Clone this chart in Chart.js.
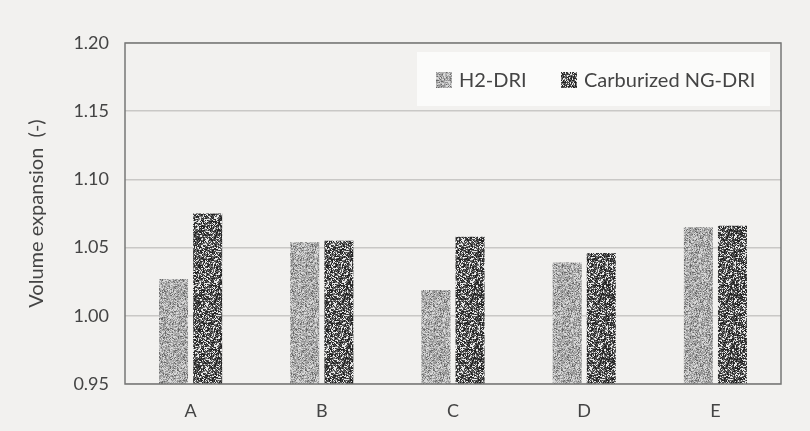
<!DOCTYPE html>
<html>
<head>
<meta charset="utf-8">
<script src="https://cdn.jsdelivr.net/npm/chart.js@4"></script>
<style>
  html, body { margin: 0; padding: 0; background: #f2f1ef; }
  #wrap { width: 810px; height: 431px; }
</style>
</head>
<body>
<div id="wrap"><canvas id="bar_chart"></canvas></div>
<script>
const categories = ['A', 'B', 'C', 'D', 'E'];
const h2Dri = [1.027, 1.054, 1.019, 1.039, 1.065];
const carbNgDri = [1.075, 1.055, 1.058, 1.046, 1.066];
const yMin = 0.95, yMax = 1.20, yStep = 0.05;

// speckled fill like the original (seeded so it looks the same every time)
let seed = 12345;
function rnd() {
  seed = (seed * 1103515245 + 12345) % 2147483648;
  return seed / 2147483648;
}
function speckle(shades) {
  const c = document.createElement('canvas');
  c.width = 64; c.height = 64;
  const g = c.getContext('2d');
  const img = g.createImageData(64, 64);
  for (let i = 0; i < 64 * 64; i++) {
    const r = rnd();
    let v = shades[shades.length - 1][1];
    for (const s of shades) { if (r < s[0]) { v = s[1]; break; } }
    img.data[i * 4] = v; img.data[i * 4 + 1] = v; img.data[i * 4 + 2] = v; img.data[i * 4 + 3] = 255;
  }
  g.putImageData(img, 0, 0);
  return g.createPattern(c, 'repeat');
}
const lightFill = speckle([[0.25, 215], [0.6, 178], [0.88, 148], [1, 105]]);
const darkFill = speckle([[0.3, 35], [0.55, 75], [0.75, 120], [1, 230]]);

const frameLegend = {
  id: 'frameLegend',
  afterDraw(chart) {
    const { ctx, chartArea: a } = chart;
    ctx.save();
    ctx.strokeStyle = '#777';
    ctx.lineWidth = 1.5;
    ctx.strokeRect(a.left, a.top, a.right - a.left, a.bottom - a.top);
    // legend box in the top right
    const bx = 417, by = 52, bw = 353, bh = 54;
    ctx.fillStyle = '#fbfbfa';
    ctx.fillRect(bx, by, bw, bh);
    ctx.font = '20px Lato';
    ctx.textBaseline = 'middle';
    const items = [[436, lightFill, 'H2-DRI'], [561, darkFill, 'Carburized NG-DRI']];
    for (const [x, fill, label] of items) {
      ctx.fillStyle = fill;
      ctx.fillRect(x, 72, 16, 16);
      ctx.fillStyle = '#444';
      ctx.fillText(label, x + 23, 81);
    }
    ctx.restore();
  }
};

new Chart(document.getElementById('bar_chart'), {
  type: 'bar',
  data: {
    labels: categories,
    datasets: [{
      label: 'H2-DRI',
      data: h2Dri,
      backgroundColor: lightFill,
      borderWidth: 0
    }, {
      label: 'Carburized NG-DRI',
      data: carbNgDri,
      backgroundColor: darkFill,
      borderWidth: 0
    }]
  },
  options: {
    responsive: true,
    maintainAspectRatio: false,
    animation: false,
    categoryPercentage: 0.52,
    barPercentage: 0.85,
    layout: { padding: { top: 43, right: 29, bottom: 0, left: 0 } },
    plugins: {
      legend: { display: false },
      tooltip: { enabled: false }
    },
    scales: {
      x: {
        grid: { display: false, drawTicks: false },
        border: { display: false },
        ticks: { color: '#444', font: { family: 'Lato', size: 18 }, padding: 16 },
        afterFit(scale) { scale.height = 47; }
      },
      y: {
        min: yMin,
        max: yMax,
        grid: { color: '#c9c8c6', lineWidth: 1.5, drawTicks: false },
        border: { display: false },
        ticks: {
          stepSize: yStep,
          color: '#444',
          font: { family: 'Lato', size: 18 },
          padding: 16,
          callback: v => v.toFixed(2)
        },
        title: {
          display: true,
          text: 'Volume expansion  (-)',
          color: '#444',
          font: { family: 'Lato', size: 20 },
          padding: { top: 25, bottom: 12 }
        },
        afterFit(scale) { scale.width = 125; }
      }
    }
  },
  plugins: [frameLegend]
});
</script>
</body>
</html>
